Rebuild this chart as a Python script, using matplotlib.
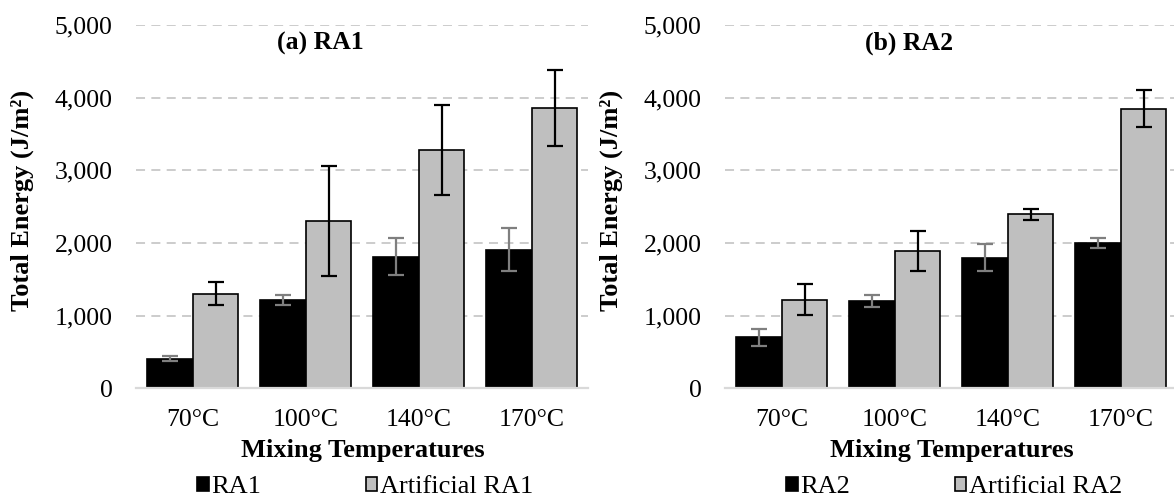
import numpy as np
import matplotlib
matplotlib.use("Agg")
import matplotlib.pyplot as plt
from matplotlib.ticker import FuncFormatter

plt.rcParams['font.family'] = ['Liberation Serif', 'DejaVu Serif']

temps = ['70°C', '100°C', '140°C', '170°C']

# panel (a)
ra1 = [410, 1210, 1810, 1910]
ra1_err = [40, 70, 255, 290]
art_ra1 = [1300, 2300, 3280, 3860]
art_ra1_err = [160, 760, 620, 520]

# panel (b)
ra2 = [700, 1200, 1800, 2000]
ra2_err = [120, 80, 180, 70]
art_ra2 = [1220, 1890, 2395, 3845]
art_ra2_err = [210, 270, 75, 255]

W, H = 1174, 499
fig = plt.figure(figsize=(W / 100, H / 100), dpi=100)

panels = [
    dict(left=136.4, title='(a) RA1',
         a=ra1, a_err=ra1_err, b=art_ra1, b_err=art_ra1_err,
         names=['RA1', 'Artificial RA1']),
    dict(left=725.4, title='(b) RA2',
         a=ra2, a_err=ra2_err, b=art_ra2, b_err=art_ra2_err,
         names=['RA2', 'Artificial RA2']),
]

x = np.arange(len(temps))
w = 0.403
tick_fs = 18.5
label_fs = 19

for p in panels:
    l = p['left']
    ax = fig.add_axes([l / W, 1 - 388.3 / H, 452 / W, 363.3 / H])
    ax.set_xlim(-0.5, len(temps) - 0.5)
    ax.set_ylim(0, 5000)
    ax.set_yticks(np.arange(0, 5001, 1000))
    ax.yaxis.set_major_formatter(FuncFormatter(lambda v, _: f'{int(v):,}'))
    ax.grid(axis='y', color='#c8c8c8', linestyle=(0, (5, 3.5)), linewidth=1.3)
    ax.set_axisbelow(True)
    for s in ['top', 'right', 'left']:
        ax.spines[s].set_visible(False)
    ax.spines['bottom'].set_color('#d9d9d9')
    ax.spines['bottom'].set_linewidth(1.6)
    ax.tick_params(length=0, labelsize=tick_fs, colors='black')
    ax.tick_params(axis='y', pad=17)
    ax.tick_params(axis='x', pad=15)

    h1 = ax.bar(x - w / 2, p['a'], w, color='black', edgecolor='black',
                linewidth=1.2, label=p['names'][0])
    h2 = ax.bar(x + w / 2, p['b'], w, color='#bfbfbf', edgecolor='black',
                linewidth=1.2, label=p['names'][1])
    ax.errorbar(x - w / 2, p['a'], yerr=p['a_err'], fmt='none', ecolor='#7f7f7f',
                elinewidth=1.6, capsize=5.5, capthick=1.6)
    ax.errorbar(x + w / 2, p['b'], yerr=p['b_err'], fmt='none', ecolor='black',
                elinewidth=1.6, capsize=5.5, capthick=1.6)
    ax.set_xticks(x)
    ax.set_xticklabels(temps)

    fig.text((l + 184) / W, 1 - 43 / H, p['title'], ha='center', va='center',
             fontsize=18.5, fontweight='bold')
    fig.text((l + 226) / W, 1 - 450 / H, 'Mixing Temperatures', ha='center',
             va='center', fontsize=label_fs, fontweight='bold')
    fig.text((l - 114) / W, 1 - 200 / H, 'Total Energy (J/m²)', rotation=90,
             ha='center', va='center', fontsize=label_fs, fontweight='bold')
    fig.legend([h1, h2], p['names'], loc='center left',
               bbox_to_anchor=((l + 60.5) / W, 1 - 487 / H),
               ncol=2, frameon=False, fontsize=19, handlelength=0.45,
               handleheight=0.45, handletextpad=0.1, columnspacing=3.95,
               borderpad=0, borderaxespad=0)

fig.savefig('out.png', dpi=100)
